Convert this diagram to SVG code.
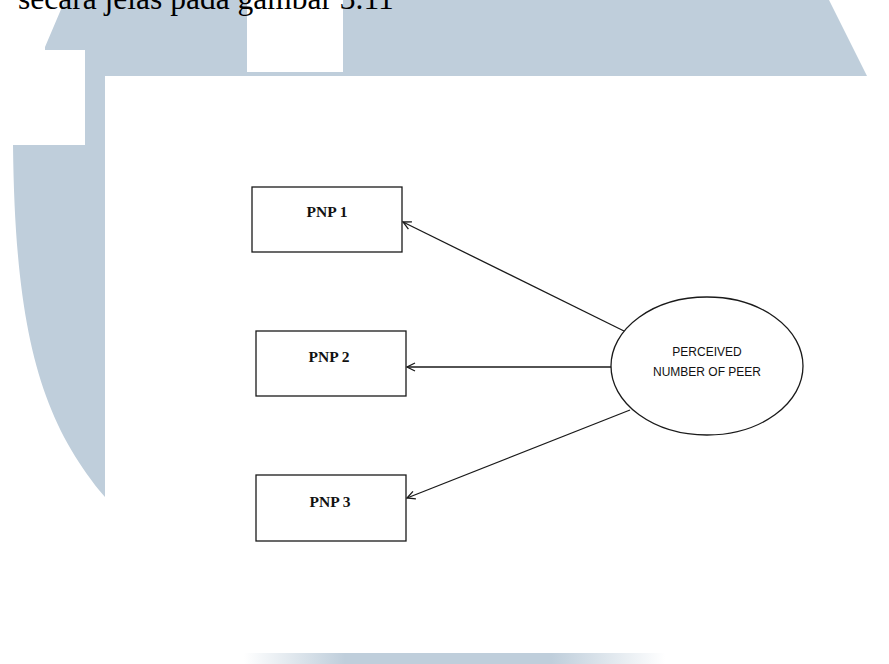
<svg xmlns="http://www.w3.org/2000/svg" width="889" height="664" viewBox="0 0 889 664">
  <style>
    .box { fill: #ffffff; stroke: #1a1a1a; stroke-width: 1.3; }
    .lbl { font-family: "Liberation Serif", "Times New Roman", serif; font-weight: bold; font-size: 15.5px; fill: #111; text-anchor: middle; }
    .elbl { font-family: "Liberation Sans", Arial, sans-serif; font-size: 12px; fill: #111; text-anchor: middle; }
    .conn { stroke: #1a1a1a; stroke-width: 1.3; fill: none; marker-end: url(#arr); }
    .wm { fill: #bfcedb; }
  </style>
  <defs>
    <marker id="arr" markerUnits="userSpaceOnUse" viewBox="-10 -6 12 12" refX="0" refY="0" markerWidth="12" markerHeight="12" orient="auto">
      <path d="M-8,-4 L0,0 L-8,4" fill="none" stroke="#1a1a1a" stroke-width="1.3"/>
    </marker>
    <linearGradient id="bottomfade" x1="244" y1="0" x2="665" y2="0" gradientUnits="userSpaceOnUse">
      <stop offset="0" stop-color="#bfcedb" stop-opacity="0"/>
      <stop offset="0.24" stop-color="#bfcedb" stop-opacity="1"/>
      <stop offset="0.73" stop-color="#bfcedb" stop-opacity="1"/>
      <stop offset="1" stop-color="#bfcedb" stop-opacity="0"/>
    </linearGradient>
  </defs>

  <rect x="0" y="0" width="889" height="664" fill="#ffffff"/>

  <!-- watermark background -->
  <g id="watermark">
    <path class="wm" d="M65,0 L829,0 L867,76 L105,76 L105,497 C40,420 15,330 13,145 L85,145 L85,50 L45,50 L45,47 Z"/>
    <rect x="247" y="0" width="96" height="72" fill="#ffffff"/>
    <rect x="244" y="653" width="421" height="11" fill="url(#bottomfade)"/>
  </g>

  <!-- page content -->
  <rect x="105" y="76" width="735" height="514" fill="#ffffff"/>

  <text x="18" y="9" font-family="'Liberation Serif', 'Times New Roman', serif" font-size="31.5" fill="#000">secara jelas pada gambar 3.11</text>

  <g id="connectors">
    <line class="conn" x1="624" y1="331" x2="403" y2="222"/>
    <line class="conn" x1="611" y1="367" x2="407" y2="367"/>
    <line class="conn" x1="630" y1="410" x2="407" y2="498"/>
  </g>

  <g id="pnp1">
    <rect class="box" x="252" y="187" width="150" height="65"/>
    <text class="lbl" x="327" y="217">PNP 1</text>
  </g>
  <g id="pnp2">
    <rect class="box" x="256" y="331" width="150" height="65"/>
    <text class="lbl" x="329" y="362">PNP 2</text>
  </g>
  <g id="pnp3">
    <rect class="box" x="256" y="475" width="150" height="66"/>
    <text class="lbl" x="330" y="507">PNP 3</text>
  </g>

  <g id="perceived">
    <ellipse cx="707" cy="366" rx="96" ry="69" fill="#ffffff" stroke="#1a1a1a" stroke-width="1.3"/>
    <text class="elbl" x="707" y="356">PERCEIVED</text>
    <text class="elbl" x="707" y="376">NUMBER OF PEER</text>
  </g>
</svg>
